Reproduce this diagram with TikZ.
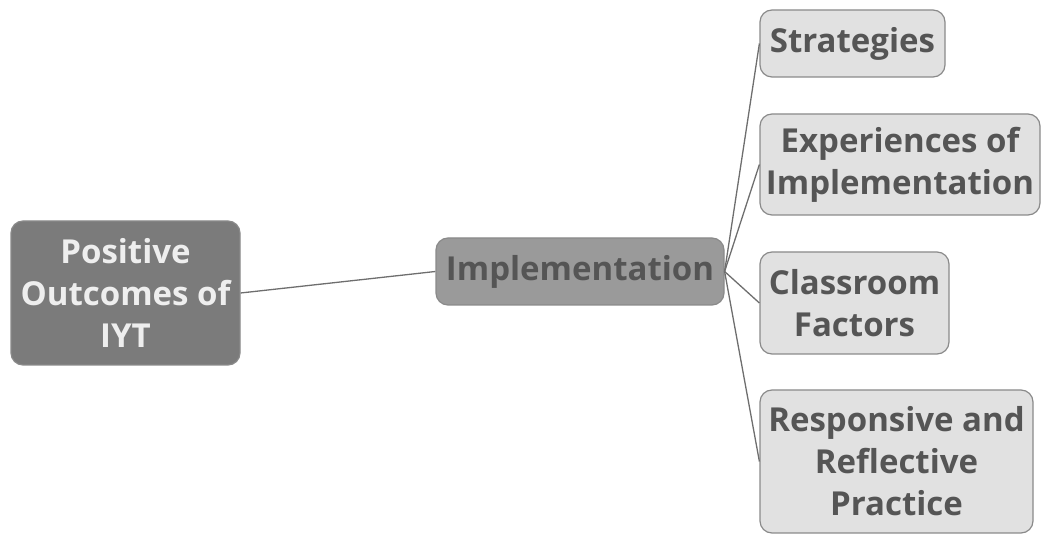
\documentclass[tikz,border=0pt]{standalone}
\usepackage{fontspec}
\setmainfont{Open Sans}
\begin{document}
\begin{tikzpicture}[x=1pt,y=-1pt,
  box/.style={draw=boxline, line width=1.2pt, rounded corners=12pt, align=center, inner sep=0pt,
    font=\fontsize{33}{42}\selectfont\bfseries},
  rootbox/.style={box, fill=rootfill, text=roottext},
  midbox/.style={box, fill=midfill, text=darktext},
  leafbox/.style={box, fill=leaffill, text=darktext},
  link/.style={draw=linkcol, line width=1.3pt}]
\definecolor{boxline}{HTML}{8A8A8A}
\definecolor{rootfill}{HTML}{7B7B7B}
\definecolor{roottext}{HTML}{EEEEEE}
\definecolor{midfill}{HTML}{9A9A9A}
\definecolor{leaffill}{HTML}{E1E1E1}
\definecolor{darktext}{HTML}{555555}
\definecolor{linkcol}{HTML}{6E6E6E}
\useasboundingbox (0,0) rectangle (1045,534);
\node[rootbox, minimum width=229pt, minimum height=144pt] (root) at (125.5,293) {Positive\\Outcomes of\\IYT};
\node[midbox, minimum width=288pt, minimum height=67pt] (impl) at (580,271.5) {Implementation};
\node[leafbox, minimum width=185pt, minimum height=67pt] (s) at (852.5,43.5) {Strategies};
\node[leafbox, minimum width=280pt, minimum height=101pt] (e) at (900,164.5) {Experiences of\\Implementation};
\node[leafbox, minimum width=189pt, minimum height=102pt] (c) at (854.5,303) {Classroom\\Factors};
\node[leafbox, minimum width=273pt, minimum height=143pt] (r) at (896.5,461.5) {Responsive and\\Reflective\\Practice};
\draw[link] (root.east) -- (impl.west);
\draw[link] (impl.east) -- (s.west);
\draw[link] (impl.east) -- (e.west);
\draw[link] (impl.east) -- (c.west);
\draw[link] (impl.east) -- (r.west);
\end{tikzpicture}
\end{document}
